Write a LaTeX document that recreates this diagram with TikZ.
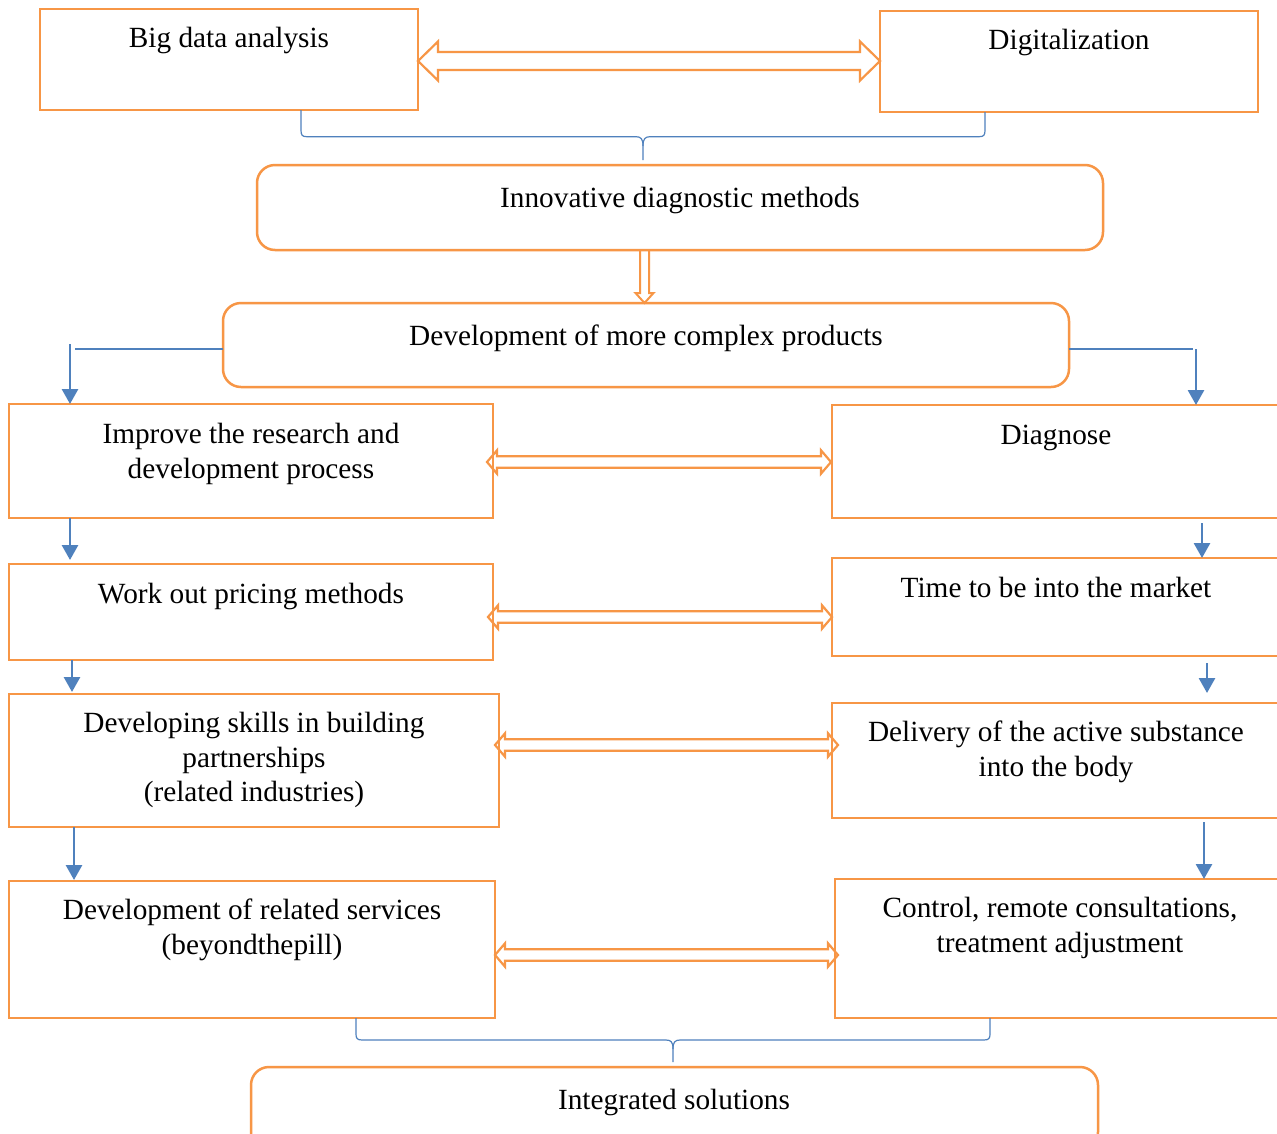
\documentclass[tikz,border=0pt]{standalone}
\usepackage{fontspec}
\setmainfont{Liberation Serif}
\usetikzlibrary{arrows.meta,calc}
\definecolor{boxorange}{HTML}{F79646}
\definecolor{linkblue}{HTML}{4F81BD}
\newcommand\fl{\rule{0pt}{21pt}}
\newcommand\dblarr[5]{%
  \draw[hollow] let \p1=(#1), \p2=(#2) in
    (\x1,\y1) -- (\x1+#5,\y1+#4) -- (\x1+#5,\y1+#3) -- (\x2-#5,\y1+#3) -- (\x2-#5,\y1+#4)
    -- (\x2,\y1) -- (\x2-#5,\y1-#4) -- (\x2-#5,\y1-#3) -- (\x1+#5,\y1-#3) -- (\x1+#5,\y1-#4) -- cycle;}
\begin{document}
\begin{tikzpicture}[x=1pt,y=1pt,
  box/.style={draw=boxorange,line width=2.5pt,inner sep=0pt,outer sep=0pt},
  rbox/.style={box,rounded corners=18pt},
  txt/.style={anchor=north,align=center,inner sep=0pt,font=\fontsize{29.3}{34.5}\selectfont},
  hollow/.style={draw=boxorange,line width=2.2pt,line join=miter},
  barrow/.style={draw=linkblue,line width=2.8pt,-{Triangle[width=16pt,length=15pt]}},
  thinline/.style={draw=linkblue,line width=1.2pt}]
\useasboundingbox (0,0) rectangle (1277,-1133);
\clip (0,0) rectangle (1277,-1133);
\fill[white] (0,0) rectangle (1277,-1133);

% boxes
\node[box,minimum width=378pt,minimum height=101pt] (bd) at (229,-59.5) {};
\node[box,minimum width=378pt,minimum height=101pt] (dg) at (1069,-61.5) {};
\node[rbox,minimum width=846pt,minimum height=85pt] (in) at (680,-207.5) {};
\node[rbox,minimum width=846pt,minimum height=84pt] (dv) at (646,-345) {};
\node[box,minimum width=484pt,minimum height=114pt] (l1) at (251,-461) {};
\node[box,minimum width=484pt,minimum height=96pt] (l2) at (251,-612) {};
\node[box,minimum width=490pt,minimum height=133pt] (l3) at (254,-760.5) {};
\node[box,minimum width=486pt,minimum height=137pt] (l4) at (252,-949.5) {};
\node[box,minimum width=453pt,minimum height=113pt] (r1) at (1058.5,-461.5) {};
\node[box,minimum width=453pt,minimum height=98pt] (r2) at (1058.5,-607) {};
\node[box,minimum width=453pt,minimum height=115pt] (r3) at (1058.5,-760.5) {};
\node[box,minimum width=450pt,minimum height=139pt] (r4) at (1060,-948.5) {};
\node[rbox,minimum width=847pt,minimum height=83pt] (is) at (674.5,-1108.5) {};

% texts
\node[txt] (tbd) at (229,-26.5) {\fl Big data analysis};
\node[txt] (tdg) at (1069,-28.5) {\fl Digitalization};
\node[txt] (tin) at (680,-186.5) {\fl Innovative diagnostic methods};
\node[txt] (tdv) at (646,-324.5) {\fl Development of more complex products};
\node[txt] (tl1) at (251,-422.5) {\fl Improve the research and\\development process};
\node[txt] (tl2) at (251,-582.5) {\fl Work out pricing methods};
\node[txt] (tl3) at (254,-711.5) {\fl Developing skills in building\\partnerships\\(related industries)};
\node[txt] (tl4) at (252,-898.5) {\fl Development of related services\\(beyondthepill)};
\node[txt] (tr1) at (1056,-423.5) {\fl Diagnose};
\node[txt] (tr2) at (1056,-576.5) {\fl Time to be into the market};
\node[txt] (tr3) at (1056,-720.5) {\fl Delivery of the active substance\\into the body};
\node[txt] (tr4) at (1060,-896.5) {\fl Control, remote consultations,\\treatment adjustment};
\node[txt] (tis) at (674,-1088.5) {\fl Integrated solutions};

% hollow double arrows
\dblarr{bd.east |- 0,-61}{dg.west |- 0,-61}{9pt}{19.5pt}{20pt}
\dblarr{$(l1.east |- 0,-462)+(-6,0)$}{$(r1.west |- 0,-462)+(-1,0)$}{5.8pt}{11.7pt}{10pt}
\dblarr{$(l2.east |- 0,-617)+(-5,0)$}{r2.west |- 0,-617}{5.8pt}{11.7pt}{10pt}
\dblarr{$(l3.east |- 0,-745)+(-4,0)$}{$(r3.west |- 0,-745)+(6,0)$}{5.8pt}{11.7pt}{10pt}
\dblarr{l4.east |- 0,-955}{$(r4.west |- 0,-955)+(3,0)$}{5.8pt}{11.7pt}{10pt}

% hollow down arrow
\draw[hollow,line width=2pt] let \p1=(in.south -| 644.5,0), \p2=(dv.north -| 644.5,0) in
  (\x1-4.5pt,\y1) -- (\x1-4.5pt,\y2+10pt) -- (\x1-9pt,\y2+10pt) -- (\x1,\y2)
  -- (\x1+9pt,\y2+10pt) -- (\x1+4.5pt,\y2+10pt) -- (\x1+4.5pt,\y1);

% braces
\draw[thinline] (bd.south -| 301,0) -- (301,-130) .. controls (301,-135) and (302,-136.7) .. (307,-136.7)
  -- (636,-136.7) .. controls (641,-136.7) and (643,-139) .. (643,-146) -- (643,-160);
\draw[thinline] (dg.south -| 985,0) -- (985,-130) .. controls (985,-135) and (984,-136.7) .. (979,-136.7)
  -- (650,-136.7) .. controls (645,-136.7) and (643,-139) .. (643,-146);
\draw[thinline] (l4.south -| 356,0) -- (356,-1034) .. controls (356,-1038) and (357,-1040) .. (362,-1040)
  -- (666,-1040) .. controls (671,-1040) and (673,-1042) .. (673,-1049) -- (673,-1062);
\draw[thinline] (r4.south -| 990,0) -- (990,-1034) .. controls (990,-1038) and (989,-1040) .. (984,-1040)
  -- (680,-1040) .. controls (675,-1040) and (673,-1042) .. (673,-1049);

% blue connectors
\coordinate (lc) at (75,-349);
\coordinate (rc) at (1193,-349);
\draw[thinline] (dv.west |- lc) -- (lc);
\draw[thinline] (dv.east |- rc) -- (rc);
\draw[barrow] (70,-344) -- (l1.north -| 70,0);
\draw[barrow] (1196,-349) -- (r1.north -| 1196,0);
\draw[barrow,shorten >=4pt] (l1.south -| 70,0) -- (l2.north -| 70,0);
\draw[barrow,shorten >=2pt] (l2.south -| 72,0) -- (l3.north -| 72,0);
\draw[barrow,shorten >=1pt] (l3.south -| 74,0) -- (l4.north -| 74,0);
\draw[barrow,shorten <=5pt] (r1.south -| 1202,0) -- (r2.north -| 1202,0);
\draw[barrow,shorten <=7pt,shorten >=10pt] (r2.south -| 1207,0) -- (r3.north -| 1207,0);
\draw[barrow,shorten <=4pt] (r3.south -| 1204,0) -- (r4.north -| 1204,0);
\end{tikzpicture}
\end{document}
